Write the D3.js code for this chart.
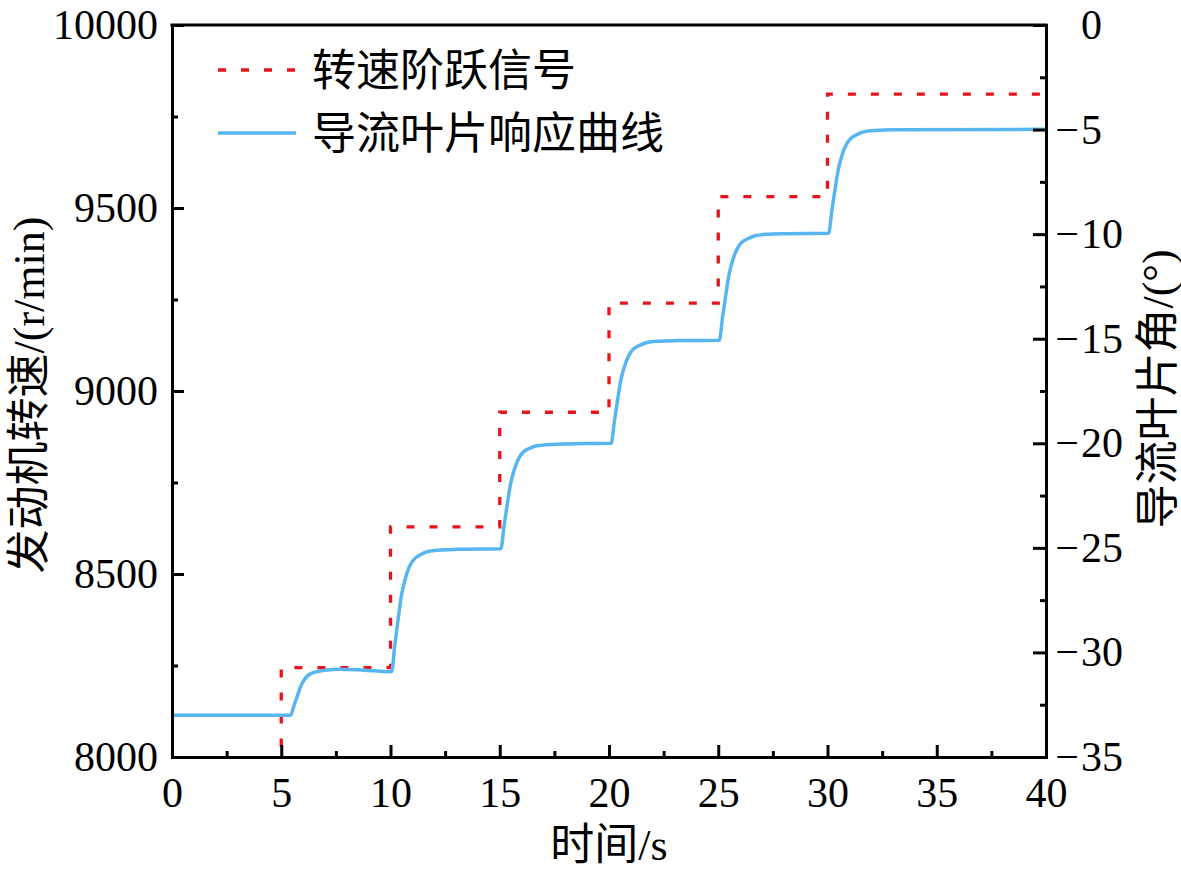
<!DOCTYPE html>
<html>
<head>
<meta charset="utf-8">
<script src="https://cdn.jsdelivr.net/npm/d3@7"></script>
<style>
  html, body { margin: 0; padding: 0; background: #fff; }
  svg { display: block; }
  text { font-family: "Liberation Serif", "Times New Roman", "Noto Sans CJK SC", serif; fill: #000; }
</style>
</head>
<body>
<div id="chart-container"></div>
<script>
// step signal: engine speed (left axis, r/min)
const stepTime = [0, 5, 10, 15, 20, 25, 30, 40];
const stepSpeed = [7950, 8244, 8629, 8942, 9240, 9531, 9811, 9811];

// guide vane response (right axis, degrees)
const bladeTime = [
  0, 5.43, 5.58, 5.73, 5.88, 6.03, 6.23, 6.43, 6.73, 7.1, 7.6, 8.5, 9.3, 10.05,
  10.2, 10.35, 10.5, 10.65, 10.85, 11.05, 11.35, 11.65, 12.15, 13.05, 15.05,
  15.2, 15.35, 15.5, 15.65, 15.85, 16.05, 16.35, 16.65, 17.15, 18.05, 20.1,
  20.25, 20.4, 20.55, 20.7, 20.9, 21.1, 21.4, 21.7, 22.2, 23.1, 25.05,
  25.2, 25.35, 25.5, 25.65, 25.85, 26.05, 26.35, 26.65, 27.15, 28.05, 30.05,
  30.2, 30.35, 30.5, 30.65, 30.85, 31.05, 31.35, 31.65, 32.15, 33.05, 40,
];
const bladeAngle = [
  -33.0, -33.0, -32.55, -32.1, -31.65, -31.35, -31.1, -30.98, -30.9, -30.84, -30.8, -30.83, -30.88, -30.92,
  -29.63, -28.4, -27.28, -26.58, -25.93, -25.58, -25.34, -25.19, -25.11, -25.07, -25.04,
  -23.93, -22.87, -21.92, -21.31, -20.76, -20.45, -20.25, -20.13, -20.07, -20.03, -20.0,
  -18.92, -17.88, -16.94, -16.35, -15.81, -15.51, -15.32, -15.19, -15.12, -15.09, -15.07,
  -13.95, -12.87, -11.9, -11.29, -10.73, -10.42, -10.22, -10.09, -10.01, -9.98, -9.96,
  -8.87, -7.82, -6.88, -6.28, -5.74, -5.44, -5.24, -5.11, -5.04, -5.01, -4.99,
];

// tick values
const timeTicks = [0, 5, 10, 15, 20, 25, 30, 35, 40];
const timeMinor = [2.5, 7.5, 12.5, 17.5, 22.5, 27.5, 32.5, 37.5];
const speedTicks = [8000, 8500, 9000, 9500, 10000];
const speedMinor = [8250, 8750, 9250, 9750];
const angleTicks = [-35, -30, -25, -20, -15, -10, -5, 0];
const angleMinor = [-32.5, -27.5, -22.5, -17.5, -12.5, -7.5, -2.5];

// legend
const legendNames = ["转速阶跃信号", "导流叶片响应曲线"];

const RED = "#e8131b";
const BLUE = "#58b6ee";
const SERIF = '"Liberation Serif", "Times New Roman", serif';

const [svg, w, h, padding] = renderSvg();
renderChart();

function renderSvg() {
  const padding = { top: 25, right: 135, bottom: 118, left: 172 };
  const w = 1181 - padding.left - padding.right;
  const h = 875 - padding.top - padding.bottom;
  const svg = d3
    .select("#chart-container")
    .append("svg")
    .attr("width", 1181)
    .attr("height", 875);
  return [svg, w, h, padding];
}

function renderChart() {
  const x = d3.scaleLinear().domain([0, 40]).range([0, w]);
  const yL = d3.scaleLinear().domain([8000, 10000]).range([h, 0]);
  const yR = d3.scaleLinear().domain([-35, 0]).range([h, 0]);

  const g = svg
    .append("g")
    .attr("transform", `translate(${padding.left}, ${padding.top})`);

  g.append("clipPath")
    .attr("id", "plot-clip")
    .append("rect")
    .attr("width", w)
    .attr("height", h);

  // speed step signal
  const stepData = stepTime.map((t, i) => [t, stepSpeed[i]]);
  g.append("path")
    .datum(stepData)
    .attr("clip-path", "url(#plot-clip)")
    .attr("fill", "none")
    .attr("stroke", RED)
    .attr("stroke-width", 3.3)
    .attr("stroke-dasharray", "8,15")
    .attr(
      "d",
      d3
        .line()
        .curve(d3.curveStepAfter)
        .x((d) => x(d[0]))
        .y((d) => yL(d[1]))
    );

  // vane response
  const bladeData = bladeTime.map((t, i) => [t, bladeAngle[i]]);
  g.append("path")
    .datum(bladeData)
    .attr("fill", "none")
    .attr("stroke", BLUE)
    .attr("stroke-width", 3.5)
    .attr("stroke-linejoin", "round")
    .attr(
      "d",
      d3
        .line()
        .curve(d3.curveMonotoneX)
        .x((d) => x(d[0]))
        .y((d) => yR(d[1]))
    );

  // axes
  const styleAxis = (sel) => {
    sel.attr("font-family", null).attr("font-size", null);
    sel.select(".domain").attr("stroke-width", 3);
    sel.selectAll(".tick line").attr("stroke-width", 3);
    sel.selectAll(".tick text").style("font-size", "42px").style("font-family", SERIF);
  };

  // bottom
  g.append("g")
    .attr("transform", `translate(0, ${h})`)
    .call(d3.axisBottom(x).tickValues(timeTicks).tickSize(-12).tickPadding(20).tickFormat(d3.format("d")))
    .call(styleAxis);
  g.append("g")
    .attr("transform", `translate(0, ${h})`)
    .call(d3.axisBottom(x).tickValues(timeMinor).tickSize(-6).tickFormat(""))
    .call((s) => s.select(".domain").remove())
    .call(styleAxis);

  // left
  g.append("g")
    .call(d3.axisLeft(yL).tickValues(speedTicks).tickSize(-12).tickPadding(14).tickFormat(d3.format("d")))
    .call(styleAxis);
  g.append("g")
    .call(d3.axisLeft(yL).tickValues(speedMinor).tickSize(-6).tickFormat(""))
    .call((s) => s.select(".domain").remove())
    .call(styleAxis);

  // right
  const rightAxis = g
    .append("g")
    .attr("transform", `translate(${w}, 0)`)
    .call(d3.axisRight(yR).tickValues(angleTicks).tickSize(-13).tickPadding(35).tickFormat((d) => Math.abs(d)))
    .call(styleAxis);
  rightAxis
    .selectAll(".tick")
    .filter((d) => d < 0)
    .append("text")
    .attr("x", 33)
    .attr("dy", "0.32em")
    .attr("text-anchor", "end")
    .style("font-size", "42px")
    .style("font-family", SERIF)
    .attr("fill", "#000")
    .text("\u2212");
  g.append("g")
    .attr("transform", `translate(${w}, 0)`)
    .call(d3.axisRight(yR).tickValues(angleMinor).tickSize(-6).tickFormat(""))
    .call((s) => s.select(".domain").remove())
    .call(styleAxis);

  // top frame
  g.append("line")
    .attr("x1", 0)
    .attr("x2", w)
    .attr("y1", 0)
    .attr("y2", 0)
    .attr("stroke", "#000")
    .attr("stroke-width", 3)
    .attr("stroke-linecap", "square");

  // axis titles
  svg
    .append("text")
    .attr("x", padding.left + w / 2)
    .attr("y", 860)
    .attr("text-anchor", "middle")
    .style("font-size", "44px")
    .text("时间/s");

  svg
    .append("text")
    .attr("transform", `translate(44, ${padding.top + h / 2 + 4}) rotate(-90)`)
    .attr("text-anchor", "middle")
    .style("font-size", "44px")
    .text("发动机转速/(r/min)");

  svg
    .append("text")
    .attr("transform", `translate(1173, ${padding.top + h / 2 - 2}) rotate(-90)`)
    .attr("text-anchor", "middle")
    .style("font-size", "44px")
    .text("导流叶片角/(°)");

  renderLegend(g);
}

function renderLegend(g) {
  const items = [
    { name: legendNames[0], color: RED, dash: "8,15", y: 70 },
    { name: legendNames[1], color: BLUE, dash: null, y: 133 },
  ];
  const legend = g
    .append("g")
    .attr("id", "legend")
    .attr("transform", `translate(0, ${-padding.top})`);

  const item = legend.selectAll(".legend-item").data(items).enter().append("g").attr("class", "legend-item");

  item
    .append("line")
    .attr("x1", 218 - padding.left)
    .attr("x2", 296 - padding.left)
    .attr("y1", (d) => d.y)
    .attr("y2", (d) => d.y)
    .attr("stroke", (d) => d.color)
    .attr("stroke-width", (d) => (d.dash ? 3.3 : 3.5))
    .attr("stroke-dasharray", (d) => d.dash);

  item
    .append("text")
    .attr("x", 312 - padding.left)
    .attr("y", (d) => d.y + 16)
    .style("font-size", "44px")
    .text((d) => d.name);
}
</script>
</body>
</html>
